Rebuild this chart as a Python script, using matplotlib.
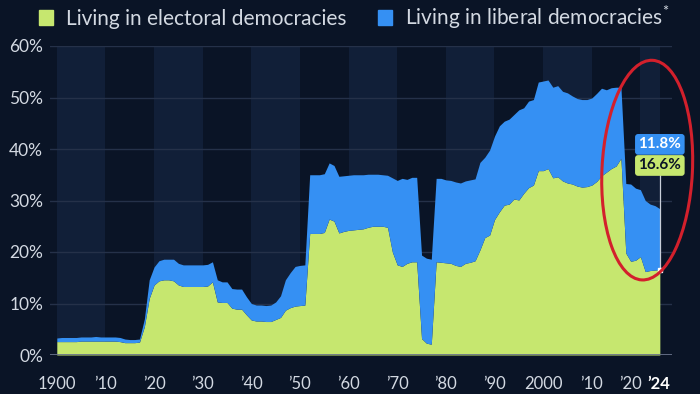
import numpy as np
import matplotlib
matplotlib.use("Agg")
import matplotlib.pyplot as plt
import matplotlib.transforms as mtransforms
from matplotlib.patches import Patch, Ellipse

plt.rcParams['font.family'] = ['Lato', 'DejaVu Sans']
plt.rcParams['mathtext.fontset'] = 'custom'
plt.rcParams['mathtext.rm'] = 'Lato'

# share of world population, %
years = np.arange(1900, 2025)

electoral = [
    2.6, 2.6, 2.6, 2.6, 2.6, 2.7, 2.7, 2.7, 2.7, 2.7,          # 1900s
    2.7, 2.7, 2.7, 2.6, 2.4, 2.4, 2.4, 2.5, 5.5, 11.0,         # 1910s
    13.6, 14.4, 14.6, 14.6, 14.4, 13.6, 13.3, 13.3, 13.3, 13.3, # 1920s
    13.3, 13.4, 14.2, 10.3, 10.2, 10.2, 9.1, 8.9, 8.9, 7.8,     # 1930s
    6.8, 6.6, 6.6, 6.5, 6.5, 6.9, 7.3, 8.7, 9.2, 9.5,           # 1940s
    9.6, 9.7, 23.6, 23.6, 23.6, 23.8, 26.4, 26.0, 23.7, 24.0,   # 1950s
    24.2, 24.3, 24.4, 24.5, 24.8, 25.0, 25.0, 25.0, 24.8, 20.0, # 1960s
    17.5, 17.2, 17.8, 18.1, 18.1, 3.2, 2.3, 2.1, 18.1, 18.0,    # 1970s
    17.9, 17.8, 17.4, 17.2, 17.8, 18.0, 18.3, 20.4, 22.8, 23.3, # 1980s
    26.3, 27.8, 29.1, 29.3, 30.3, 30.1, 31.4, 32.5, 33.0, 35.8, # 1990s
    35.8, 36.2, 34.4, 34.6, 33.8, 33.4, 33.2, 32.8, 32.6, 32.7, # 2000s
    33.0, 33.7, 34.8, 35.5, 36.2, 36.7, 38.2, 19.8, 18.2, 18.4, # 2010s
    19.1, 16.2, 16.4, 16.5, 16.6,                               # 2020s
]

liberal = [
    0.7, 0.8, 0.8, 0.8, 0.8, 0.8, 0.8, 0.8, 0.9, 0.8,
    0.8, 0.8, 0.8, 0.8, 0.7, 0.6, 0.6, 0.6, 1.5, 3.6,
    3.5, 3.9, 4.0, 4.0, 4.2, 4.2, 4.2, 4.2, 4.2, 4.2,
    4.2, 4.2, 3.9, 4.3, 4.0, 4.0, 3.8, 3.9, 3.9, 3.5,
    3.2, 3.1, 3.1, 3.1, 3.2, 3.4, 4.2, 5.9, 6.8, 7.7,
    7.8, 7.8, 11.4, 11.4, 11.4, 11.4, 10.9, 10.8, 11.0, 10.8,
    10.7, 10.7, 10.6, 10.5, 10.3, 10.1, 10.1, 10.0, 10.1, 14.4,
    16.4, 17.1, 16.3, 16.4, 16.4, 16.2, 16.5, 16.5, 16.2, 16.3,
    16.1, 16.1, 16.2, 16.2, 16.0, 16.0, 15.9, 17.0, 15.6, 16.5,
    16.2, 16.7, 16.3, 16.5, 16.4, 17.5, 16.6, 16.8, 16.6, 17.2,
    17.4, 17.2, 17.6, 17.7, 17.4, 17.5, 17.1, 17.0, 17.0, 16.9,
    16.9, 17.1, 17.0, 16.0, 15.7, 15.3, 13.8, 13.5, 15.0, 14.0,
    13.0, 13.8, 12.9, 12.5, 11.8,
]

tick_years = [1900, 1910, 1920, 1930, 1940, 1950, 1960, 1970, 1980, 1990, 2000, 2010, 2020, 2024]
tick_labels = ['1900', '\u201910', '\u201920', '\u201930', '\u201940', '\u201950', '\u201960',
               '\u201970', '\u201980', '\u201990', '2000', '\u201910', '\u201920', '\u201924']

bg = '#0a1426'
band = '#111f38'
green = '#c6e76f'
blue = '#3590f3'
txt = '#d3d9e2'

electoral = np.array(electoral)
liberal = np.array(liberal)

fig = plt.figure(figsize=(7, 3.94), dpi=100, facecolor=bg)
ax = fig.add_axes([50/700, 39/394, 622/700, 309/394])
ax.set_facecolor(bg)

# decade bands
for d in range(1900, 2030, 20):
    ax.axvspan(d, min(d + 10, 2024), color=band, lw=0, zorder=0)

for y in range(10, 70, 10):
    ax.axhline(y, color='#253149', lw=1, zorder=1)

ax.fill_between(years, 0, electoral, color=green, lw=0, zorder=2)
ax.fill_between(years, electoral, electoral + liberal, color=blue, lw=0, zorder=2)
ax.axhline(0, color='#69738a', lw=2, zorder=3)

ax.set_xlim(1898.6, 2026.5)
ax.set_ylim(0, 60)
for s in ax.spines.values():
    s.set_visible(False)

ax.set_yticks(range(0, 70, 10))
ax.set_yticklabels([f'{v}%' for v in range(0, 70, 10)], fontsize=12.5)
ax.set_xticks(tick_years)
ax.set_xticklabels(tick_labels, fontsize=12)
ax.tick_params(length=0, colors=txt)
ax.tick_params(axis='y', pad=5)
ax.tick_params(axis='x', pad=15)
xl = ax.get_xticklabels()
xl[-1].set_fontweight('bold')
xl[-1].set_color('white')
xl[-1].set_transform(xl[-1].get_transform() + mtransforms.ScaledTranslation(-1/100, 0, fig.dpi_scale_trans))
xl[-2].set_transform(xl[-2].get_transform() + mtransforms.ScaledTranslation(-10/100, 0, fig.dpi_scale_trans))

# latest values
ax.plot([2024, 2024], [electoral[-1], 36.0], color='#c9ced8', lw=0.9, zorder=4)
ax.plot(2024, electoral[-1], 's', color='white', ms=3.5, zorder=5)
ax.text(2024, 40.9, f'{liberal[-1]:.1f}%', ha='center', va='center', fontsize=11,
        fontweight='bold', color='white', zorder=6,
        bbox=dict(boxstyle='round,pad=0.22,rounding_size=0.2', fc=blue, ec='none'))
ax.text(2024, 36.8, f'{electoral[-1]:.1f}%', ha='center', va='center', fontsize=11,
        fontweight='bold', color=bg, zorder=6,
        bbox=dict(boxstyle='round,pad=0.22,rounding_size=0.2', fc=green, ec='none'))

ell = Ellipse((2021.4, 35.9), 18.6, 42.7, angle=-3, fill=False, ec='#d3202c', lw=2.2,
              clip_on=False, zorder=7)
ax.add_patch(ell)

handles = [Patch(color=green), Patch(color=blue)]
fig.legend(handles, ['Living in electoral democracies', 'Living in liberal democracies$^{*}$'],
           loc='center', bbox_to_anchor=(354/700, 1 - 17/394), ncol=2, frameon=False,
           fontsize=15, labelcolor=txt, handlelength=0.7, handleheight=0.7,
           handletextpad=0.6, columnspacing=1.5)

fig.savefig('out.png', dpi=100, facecolor=bg)
plt.close()
